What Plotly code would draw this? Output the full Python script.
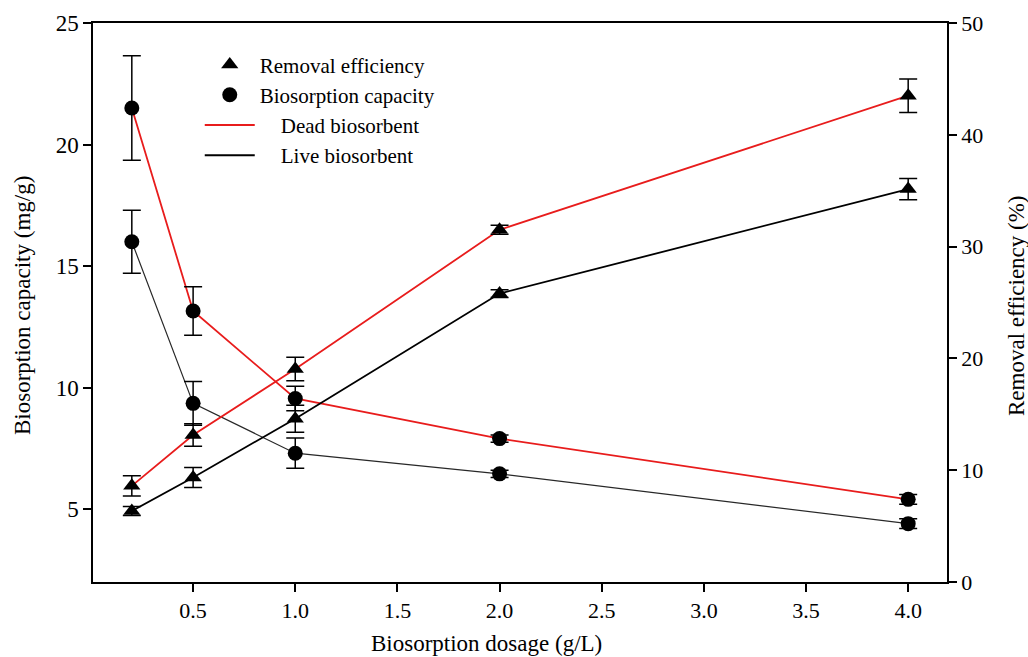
import plotly.graph_objects as go

# Biosorbent dosage (g/L)
dosage = [0.2, 0.5, 1.0, 2.0, 4.0]

# Biosorption capacity (mg/g), left axis
dead_capacity = [21.5, 13.15, 9.55, 7.9, 5.4]
dead_capacity_err = [2.15, 1.0, 0.5, 0.15, 0.2]
live_capacity = [16.0, 9.35, 7.3, 6.45, 4.4]
live_capacity_err = [1.3, 0.9, 0.62, 0.15, 0.2]

# Removal efficiency (%), right axis
dead_removal = [8.6, 13.15, 19.05, 31.5, 43.5]
dead_removal_err = [0.9, 1.0, 1.05, 0.4, 1.5]
live_removal = [6.35, 9.35, 14.6, 25.8, 35.15]
live_removal_err = [0.4, 0.9, 1.2, 0.35, 0.95]

x_tick_vals = [0.5, 1.0, 1.5, 2.0, 2.5, 3.0, 3.5, 4.0]
x_tick_text = ["0.5", "1.0", "1.5", "2.0", "2.5", "3.0", "3.5", "4.0"]
left_ticks = [5, 10, 15, 20, 25]
right_ticks = [0, 10, 20, 30, 40, 50]

RED = "rgb(232,28,28)"
BLACK = "black"
SERIF = "Liberation Serif"

fig = go.Figure()

# connecting lines first so the markers sit on top of them
line_specs = [
    (dead_capacity, "y", RED, 1.8),
    (live_capacity, "y", "rgb(40,40,40)", 1.2),
    (dead_removal, "y2", RED, 1.8),
    (live_removal, "y2", BLACK, 1.8),
]
for values, axis, color, width in line_specs:
    fig.add_trace(go.Scatter(
        x=dosage, y=values, yaxis=axis, mode="lines",
        line=dict(color=color, width=width),
        showlegend=False, hoverinfo="skip",
    ))

# markers with standard-deviation error bars
marker_specs = [
    (dead_capacity, dead_capacity_err, "y", "circle"),
    (live_capacity, live_capacity_err, "y", "circle"),
    (dead_removal, dead_removal_err, "y2", "triangle-up"),
    (live_removal, live_removal_err, "y2", "triangle-up"),
]
for values, errors, axis, symbol in marker_specs:
    fig.add_trace(go.Scatter(
        x=dosage, y=values, yaxis=axis, mode="markers",
        marker=dict(symbol=symbol, size=15, color=BLACK,
                    line=dict(width=0)),
        error_y=dict(type="data", array=errors, visible=True,
                     color=BLACK, thickness=1.5, width=9),
        showlegend=False,
    ))

# legend entries
nb = "\u00a0" * 4
legend_specs = [
    ("Removal efficiency", dict(mode="markers", marker=dict(symbol="triangle-up", size=15, color=BLACK))),
    ("Biosorption capacity", dict(mode="markers", marker=dict(symbol="circle", size=15, color=BLACK))),
    (nb + "Dead biosorbent", dict(mode="lines", line=dict(color=RED, width=2))),
    (nb + "Live biosorbent", dict(mode="lines", line=dict(color=BLACK, width=2))),
]
for i, (name, style) in enumerate(legend_specs):
    fig.add_trace(go.Scatter(x=[None], y=[None], name=name,
                             legendgroup=f"g{i}", **style))

axis_common = dict(
    showline=True, linecolor=BLACK, linewidth=1.5,
    ticks="outside", ticklen=8, tickwidth=1.5, tickcolor=BLACK,
    showgrid=False, zeroline=False,
)

fig.update_layout(
    width=1028, height=657,
    margin=dict(l=93, r=81, t=23, b=75),
    paper_bgcolor="white", plot_bgcolor="white",
    font=dict(family=SERIF, color=BLACK),
    xaxis=dict(range=[0.01, 4.19], tickvals=x_tick_vals, ticktext=x_tick_text,
               mirror=True, tickfont=dict(family=SERIF, size=22, color=BLACK),
               **axis_common),
    yaxis=dict(range=[2, 25], tickvals=left_ticks,
               tickfont=dict(family=SERIF, size=23, color=BLACK),
               **axis_common),
    yaxis2=dict(range=[0, 50], tickvals=right_ticks, overlaying="y",
                side="right", tickfont=dict(family=SERIF, size=22, color=BLACK),
                **axis_common),
    legend=dict(x=0.125, y=0.962, xanchor="left", yanchor="top",
                bgcolor="rgba(0,0,0,0)", itemwidth=50,
                tracegroupgap=0,
                font=dict(family=SERIF, size=21, color=BLACK)),
    annotations=[
        dict(text="Biosorption dosage (g/L)", xref="paper", yref="paper",
             x=(486 - 93) / 854, y=(582 - 643) / 559, xanchor="center",
             yanchor="middle", showarrow=False,
             font=dict(family=SERIF, size=23, color=BLACK)),
        dict(text="Biosorption capacity (mg/g)", xref="paper", yref="paper",
             x=(22 - 93) / 854, y=1 - (306 - 23) / 559, xanchor="center",
             yanchor="middle", textangle=-90, showarrow=False,
             font=dict(family=SERIF, size=23, color=BLACK)),
        dict(text="Removal efficiency (%)", xref="paper", yref="paper",
             x=(1016 - 93) / 854, y=1 - (306 - 23) / 559, xanchor="center",
             yanchor="middle", textangle=-90, showarrow=False,
             font=dict(family=SERIF, size=23, color=BLACK)),
    ],
)

fig.write_html("out.html")
